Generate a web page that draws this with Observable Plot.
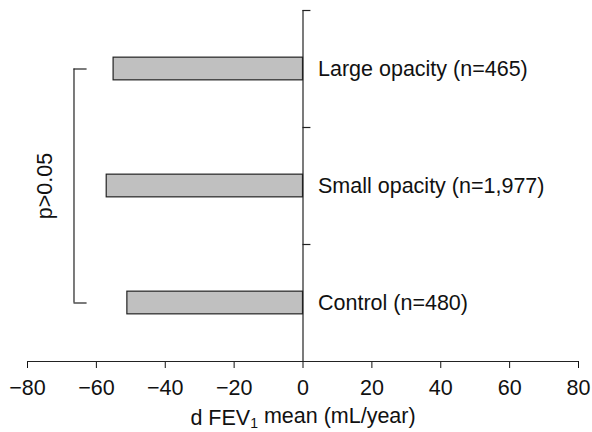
<!DOCTYPE html>
<html>
<head>
<meta charset="utf-8">
<script src="https://cdn.jsdelivr.net/npm/d3@7"></script>
<script src="https://cdn.jsdelivr.net/npm/@observablehq/plot@0.6"></script>
<style>
  html, body { margin: 0; padding: 0; background: #fff; }
  #chart { width: 592px; height: 432px; }
</style>
</head>
<body>
<div id="chart"></div>
<script>
// ---- data ----
const groups = ["Control (n=480)", "Small opacity (n=1,977)", "Large opacity (n=465)"];
const fevMean = [-51, -57, -55];
const xTicks = [-80, -60, -40, -20, 0, 20, 40, 60, 80];
const groupBoundaries = [0, 1, 2, 3];
const pLabel = "p>0.05";
const bracketGroups = [0, 2]; // Control vs Large opacity
const xLabel = "d FEV1 mean (mL/year)";

// ---- derived table ----
const rows = groups.map((g, i) => ({ group: g, value: fevMean[i], pos: i + 0.5 }));
const halfBar = 0.097;
const bracketX = -66.5, bracketTipX = -62.7, pTextX = -74.8;
const bracketYs = bracketGroups.map(i => i + 0.5);

const font = "'Liberation Sans', Arial, Helvetica, sans-serif";

const chart = Plot.plot({
  width: 592,
  height: 432,
  marginLeft: 27,
  marginRight: 14,
  marginTop: 10,
  marginBottom: 71,
  style: { fontFamily: font, fontSize: "21.5px", color: "#111", background: "#fff" },
  x: { domain: [-80, 80], ticks: xTicks, tickFormat: d3.format("d"), tickSize: 7, tickPadding: 11, label: null },
  y: { domain: [0, 3], axis: null },
  marks: [
    Plot.rectX(rows, { x1: 0, x2: "value", y1: d => d.pos - halfBar, y2: d => d.pos + halfBar, fill: "#c0c0c0", stroke: "#222", strokeWidth: 1.2 }),
    Plot.ruleY([0], { stroke: "#222", strokeWidth: 1.2 }),
    Plot.ruleX([0], { y1: 0, y2: 3, stroke: "#222", strokeWidth: 1.2 }),
    Plot.ruleY(groupBoundaries.slice(1), { x1: 0, x2: 2.3, stroke: "#222", strokeWidth: 1.2 }),
    Plot.text(rows, { x: 0, y: "pos", text: "group", dx: 15, textAnchor: "start", fill: "#111" }),
    // bracket
    Plot.ruleX([bracketX], { y1: bracketYs[0], y2: bracketYs[1], stroke: "#222", strokeWidth: 1.2 }),
    Plot.ruleY(bracketYs, { x1: bracketX, x2: bracketTipX, stroke: "#222", strokeWidth: 1.2 }),
    Plot.text([pLabel], { x: pTextX, y: (bracketYs[0] + bracketYs[1]) / 2, text: d => d, rotate: -90, fill: "#111" }),
    Plot.text([xLabel], { frameAnchor: "bottom", text: d => d, dy: 63, fill: "#111" })
  ]
});
document.getElementById("chart").appendChild(chart);

// subscript in axis label
d3.select(chart).selectAll("text").each(function () {
  if (this.textContent === xLabel) {
    const t = d3.select(this);
    t.text(null);
    t.append("tspan").text("d FEV");
    t.append("tspan").text("1").attr("font-size", "14px").attr("dy", "0.25em");
    t.append("tspan").text(" mean (mL/year)").attr("dy", "-0.25em");
  }
});
</script>
</body>
</html>
